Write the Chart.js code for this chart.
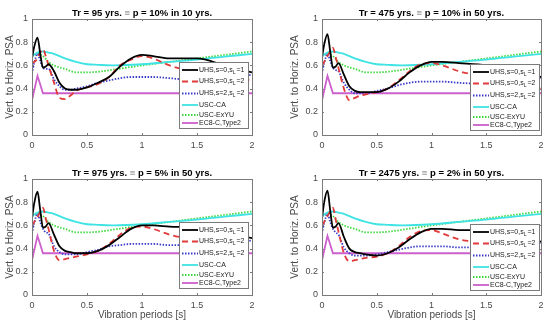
<!DOCTYPE html>
<html>
<head>
<meta charset="utf-8">
<script src="https://cdn.jsdelivr.net/npm/chart.js@4.4.0/dist/chart.umd.min.js"></script>
<style>
  body { margin: 0; background: #fff; }
  #wrap { position: relative; width: 550px; height: 325px; overflow: hidden; }
  canvas { position: absolute; }
</style>
</head>
<body>
<div id="wrap">
  <canvas id="c1" width="275" height="160" style="left:0;top:0"></canvas>
  <canvas id="c2" width="275" height="160" style="left:275px;top:0"></canvas>
  <canvas id="c3" width="275" height="165" style="left:0;top:160px"></canvas>
  <canvas id="c4" width="275" height="165" style="left:275px;top:160px"></canvas>
</div>
<script>
// periods [s] used by the UHS ratios
var periods = [0, 0.02, 0.05, 0.075, 0.1, 0.125, 0.15, 0.2, 0.25, 0.3, 0.35, 0.4, 0.5, 0.6, 0.7, 0.8, 0.9, 1.0, 1.1, 1.25, 1.5, 1.75, 2.0];

// Tr = 95 yrs
var uhs95_a = [0.66, 0.76, 0.84, 0.70, 0.58, 0.59, 0.61, 0.55, 0.45, 0.40, 0.39, 0.39, 0.41, 0.45, 0.50, 0.59, 0.66, 0.69, 0.68, 0.66, 0.66, 0.60, 0.54];
var uhs95_b = [0.62, 0.63, 0.66, 0.71, 0.74, 0.68, 0.60, 0.45, 0.32, 0.31, 0.34, 0.38, 0.41, 0.44, 0.50, 0.60, 0.65, 0.68, 0.66, 0.60, 0.54, 0.50, 0.47];
var uhs95_c = [0.53, 0.62, 0.70, 0.64, 0.58, 0.57, 0.57, 0.48, 0.42, 0.39, 0.39, 0.40, 0.42, 0.45, 0.47, 0.49, 0.50, 0.50, 0.50, 0.49, 0.47, 0.49, 0.52];
// Tr = 475 yrs
var uhs475_a = [0.67, 0.78, 0.87, 0.72, 0.58, 0.59, 0.62, 0.52, 0.42, 0.38, 0.37, 0.37, 0.37, 0.40, 0.46, 0.54, 0.60, 0.63, 0.63, 0.62, 0.60, 0.55, 0.50];
var uhs475_b = [0.60, 0.63, 0.68, 0.72, 0.75, 0.67, 0.58, 0.40, 0.30, 0.32, 0.34, 0.35, 0.37, 0.40, 0.47, 0.55, 0.61, 0.62, 0.60, 0.55, 0.50, 0.45, 0.40];
var uhs475_c = [0.53, 0.62, 0.70, 0.64, 0.58, 0.56, 0.55, 0.45, 0.39, 0.36, 0.36, 0.36, 0.38, 0.40, 0.43, 0.45, 0.46, 0.46, 0.46, 0.45, 0.44, 0.46, 0.49];
// Tr = 975 yrs
var uhs975_a = [0.66, 0.79, 0.89, 0.73, 0.58, 0.59, 0.62, 0.52, 0.42, 0.38, 0.37, 0.36, 0.36, 0.38, 0.43, 0.50, 0.57, 0.60, 0.60, 0.59, 0.58, 0.53, 0.49];
var uhs975_b = [0.60, 0.63, 0.67, 0.72, 0.75, 0.66, 0.57, 0.38, 0.30, 0.31, 0.32, 0.33, 0.35, 0.38, 0.44, 0.52, 0.58, 0.59, 0.57, 0.52, 0.47, 0.42, 0.40];
var uhs975_c = [0.53, 0.62, 0.70, 0.63, 0.57, 0.54, 0.53, 0.42, 0.37, 0.35, 0.35, 0.35, 0.37, 0.39, 0.42, 0.43, 0.44, 0.44, 0.44, 0.43, 0.43, 0.44, 0.47];
// Tr = 2475 yrs
var uhs2475_a = [0.66, 0.80, 0.90, 0.73, 0.58, 0.59, 0.62, 0.50, 0.40, 0.37, 0.36, 0.35, 0.34, 0.36, 0.41, 0.48, 0.54, 0.57, 0.57, 0.56, 0.56, 0.50, 0.46];
var uhs2475_b = [0.60, 0.63, 0.68, 0.72, 0.75, 0.65, 0.55, 0.36, 0.29, 0.30, 0.31, 0.32, 0.33, 0.36, 0.42, 0.50, 0.55, 0.56, 0.53, 0.48, 0.45, 0.40, 0.37];
var uhs2475_c = [0.53, 0.62, 0.70, 0.63, 0.57, 0.54, 0.52, 0.41, 0.36, 0.34, 0.34, 0.34, 0.35, 0.37, 0.39, 0.41, 0.42, 0.42, 0.42, 0.41, 0.41, 0.42, 0.45];

// code spectra ratios (same in every panel)
var codePeriods = [0, 0.05, 0.1, 0.15, 0.2, 0.3, 0.4, 0.5, 0.6, 0.75, 1.0, 1.25, 1.5, 1.75, 2.0];
var uscCA = [0.68, 0.71, 0.72, 0.71, 0.70, 0.66, 0.63, 0.61, 0.605, 0.60, 0.61, 0.63, 0.65, 0.675, 0.70];
var uscExYU = [0.68, 0.70, 0.68, 0.63, 0.60, 0.57, 0.54, 0.54, 0.545, 0.565, 0.60, 0.63, 0.66, 0.69, 0.72];
var ec8Periods = [0, 0.05, 0.1, 2.0];
var ec8 = [0.30, 0.51, 0.36, 0.36];

var titleLeft = ['Tr = 95 yrs.', 'Tr = 475 yrs.', 'Tr = 975 yrs.', 'Tr = 2475 yrs.'];
var titleRight = ['p = 10% in 10 yrs.', 'p = 10% in 50 yrs.', 'p = 5% in 50 yrs.', 'p = 2% in 50 yrs.'];
var yTicks = [0, 0.2, 0.4, 0.6, 0.8, 1];
var xTicks = [0, 0.5, 1, 1.5, 2];

function pts(xs, ys) {
	return xs.map(function (x, i) { return { x: x, y: ys[i] }; });
}

function line(label, xs, ys, color, dash, width, smooth) {
	return {
		label: label,
		data: pts(xs, ys),
		borderColor: color,
		borderDash: dash,
		borderWidth: width,
		pointRadius: 0,
		fill: false,
		tension: smooth ? 0.4 : 0,
		cubicInterpolationMode: smooth ? 'monotone' : 'default'
	};
}

// box, inner ticks, title and legend drawn like the matlab figure
var decorPlugin = {
	id: 'decor',
	afterDatasetsDraw: function (chart) {
		var ctx = chart.ctx, a = chart.chartArea;
		var sx = chart.scales.x, sy = chart.scales.y;
		ctx.save();
		ctx.strokeStyle = '#7a7a7a';
		ctx.lineWidth = 1;
		ctx.strokeRect(Math.round(a.left) + 0.5, Math.round(a.top) + 0.5, Math.round(a.right - a.left), Math.round(a.bottom - a.top));
		ctx.beginPath();
		xTicks.forEach(function (t) {
			var px = Math.round(sx.getPixelForValue(t)) + 0.5;
			ctx.moveTo(px, a.bottom); ctx.lineTo(px, a.bottom - 2);
			ctx.moveTo(px, a.top); ctx.lineTo(px, a.top + 2);
		});
		yTicks.forEach(function (t) {
			var py = Math.round(sy.getPixelForValue(t)) + 0.5;
			ctx.moveTo(a.left, py); ctx.lineTo(a.left + 2, py);
			ctx.moveTo(a.right, py); ctx.lineTo(a.right - 2, py);
		});
		ctx.stroke();
		ctx.restore();
	},
	afterDraw: function (chart) {
		var ctx = chart.ctx, a = chart.chartArea;
		var o = chart.options.plugins.decor;
		ctx.save();
		// title
		ctx.font = 'bold 9.5px "Liberation Sans", Arial, sans-serif';
		ctx.textBaseline = 'middle';
		var p1 = o.t1 + ' ', p2 = '\u2261', p3 = ' ' + o.t2;
		var w1 = ctx.measureText(p1).width, w2 = ctx.measureText(p2).width, w3 = ctx.measureText(p3).width;
		var x0 = (a.left + a.right) / 2 - (w1 + w2 + w3) / 2;
		ctx.fillStyle = '#000';
		ctx.fillText(p1, x0, 13);
		ctx.fillStyle = '#999';
		ctx.fillText(p2, x0 + w1, 13);
		ctx.fillStyle = '#000';
		ctx.fillText(p3, x0 + w1 + w2, 13);

		// legend
		var bw = 69, bh = 66;
		var bx = Math.round(a.right - o.lr - bw), by = Math.round(a.bottom - o.lb - bh);
		ctx.fillStyle = '#fff';
		ctx.fillRect(bx, by, bw, bh);
		ctx.strokeStyle = '#7a7a7a';
		ctx.lineWidth = 1;
		ctx.strokeRect(bx + 0.5, by + 0.5, bw, bh);
		var rowY = [8, 19.5, 31.5, 43, 53, 61];
		chart.data.datasets.forEach(function (ds, i) {
			var y = by + rowY[i];
			ctx.strokeStyle = ds.borderColor;
			ctx.lineWidth = ds.borderWidth;
			ctx.setLineDash(ds.borderDash);
			ctx.beginPath();
			ctx.moveTo(bx + 3, y); ctx.lineTo(bx + 19, y);
			ctx.stroke();
			ctx.setLineDash([]);
			ctx.fillStyle = '#222';
			ctx.textBaseline = 'middle';
			var tx = bx + 20;
			var parts = ds.label.split('|');
			ctx.font = '7px "Liberation Sans", Arial, sans-serif';
			ctx.fillText(parts[0], tx, y);
			if (parts.length > 1) {
				tx += ctx.measureText(parts[0]).width;
				ctx.font = '5px "Liberation Sans", Arial, sans-serif';
				ctx.fillText(parts[1], tx, y + 2.5);
				tx += ctx.measureText(parts[1]).width + 1;
				ctx.font = '7px "Liberation Sans", Arial, sans-serif';
				ctx.fillText(parts[2], tx, y);
			}
		});
		ctx.restore();
	}
};

function makeChart(id, k, a, b, c, bottom, right) {
	var ctx = document.getElementById(id);
	var tickFont = { family: '"Liberation Sans", Arial, sans-serif', size: 9 };
	var titleFont = { family: '"Liberation Sans", Arial, sans-serif', size: 10 };
	return new Chart(ctx, {
		type: 'line',
		data: {
			datasets: [
				line('UHS,s=0,s|L|=1', periods, a, '#000000', [], 1.8, true),
				line('UHS,s=0,s|L|=2', periods, b, '#e03a3a', [6, 4], 1.8, true),
				line('UHS,s=2,s|L|=2', periods, c, '#3b3bc8', [1.5, 1.5], 1.8, true),
				line('USC-CA', codePeriods, uscCA, '#3fe3e3', [], 1.8, true),
				line('USC-ExYU', codePeriods, uscExYU, '#3ed83e', [1.5, 1.5], 1.8, true),
				line('EC8-C,Type2', ec8Periods, ec8, '#cc5fcc', [], 1.8, false)
			]
		},
		options: {
			responsive: false,
			animation: false,
			layout: { padding: { left: right ? 10 : 0, right: right ? 9 : 23, top: 19, bottom: 0 } },
			plugins: {
				legend: { display: false },
				tooltip: { enabled: false },
				decor: { t1: titleLeft[k], t2: titleRight[k], lr: right ? 2 : 4, lb: right ? 5 : 7 }
			},
			scales: {
				x: {
					type: 'linear', min: 0, max: 2,
					afterBuildTicks: function (s) { s.ticks = xTicks.map(function (v) { return { value: v }; }); },
					ticks: { font: tickFont, color: '#4a4a4a', padding: 5, maxRotation: 0,
						callback: function (v) { return String(v); } },
					grid: { display: false, drawTicks: false },
					border: { display: false },
					title: { display: bottom, text: 'Vibration periods [s]', font: titleFont, color: '#4a4a4a', padding: { top: 0, bottom: 4 } },
					afterFit: function (s) { s.height = bottom ? 30 : 25; }
				},
				y: {
					min: 0, max: 1,
					afterBuildTicks: function (s) { s.ticks = yTicks.map(function (v) { return { value: v }; }); },
					ticks: { font: tickFont, color: '#4a4a4a', padding: 4,
						callback: function (v) { return String(v); } },
					grid: { display: false, drawTicks: false },
					border: { display: false },
					title: { display: true, text: 'Vert. to Horiz. PSA', font: titleFont, color: '#4a4a4a', padding: { top: 4, bottom: 0 } },
					afterFit: function (s) { s.width = right ? 37 : 32; }
				}
			}
		},
		plugins: [decorPlugin]
	});
}

makeChart('c1', 0, uhs95_a, uhs95_b, uhs95_c, false, false);
makeChart('c2', 1, uhs475_a, uhs475_b, uhs475_c, false, true);
makeChart('c3', 2, uhs975_a, uhs975_b, uhs975_c, true, false);
makeChart('c4', 3, uhs2475_a, uhs2475_b, uhs2475_c, true, true);
</script>
</body>
</html>
